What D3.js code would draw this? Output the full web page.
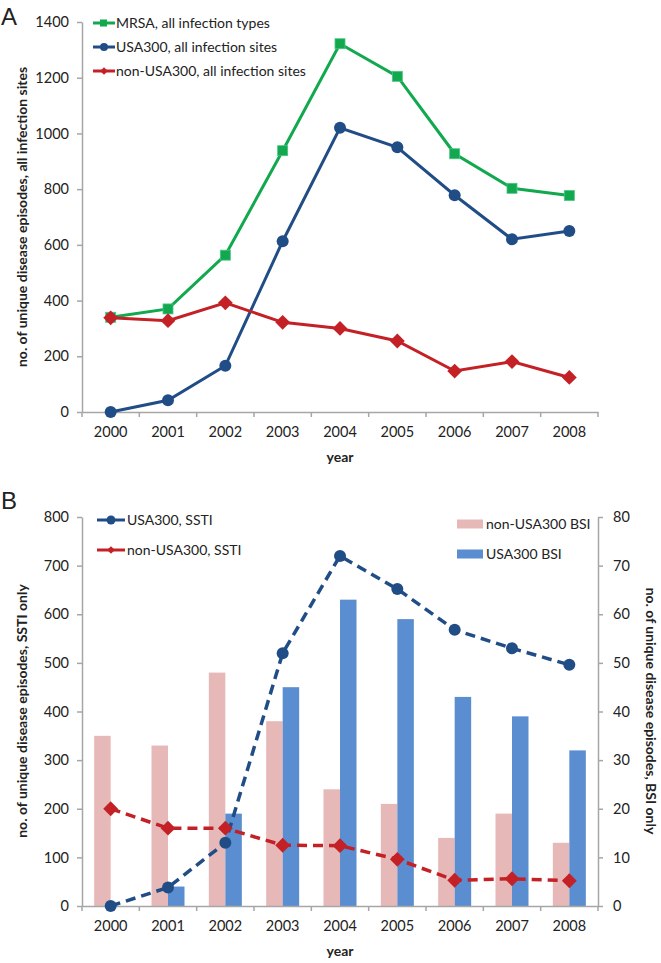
<!DOCTYPE html>
<html><head><meta charset="utf-8">
<script src="https://cdn.jsdelivr.net/npm/d3@7"></script>
<style>
body{margin:0;background:#fff;}
text{font-family:Lato,"Open Sans",sans-serif;fill:#222;}
</style></head>
<body><svg id="c" width="661" height="963"></svg>
<script>
const years = ["2000","2001","2002","2003","2004","2005","2006","2007","2008"];
const mrsaAll = [340, 370, 563, 938, 1322, 1205, 927, 803, 777];
const usa300All = [0, 42, 166, 613, 1020, 950, 778, 620, 650];
const nonUsa300All = [338, 328, 392, 322, 300, 255, 147, 181, 124];
const usa300Ssti = [0, 38, 130, 520, 720, 652, 568, 530, 496];
const nonUsa300Ssti = [200, 160, 160, 125, 124, 96, 53, 56, 52];
const nonUsa300Bsi = [35, 33, 48, 38, 24, 21, 14, 19, 13];
const usa300Bsi = [0, 4, 19, 45, 63, 59, 43, 39, 32];
const topTicks = [0,200,400,600,800,1000,1200,1400];
const leftTicksB = [0,100,200,300,400,500,600,700,800];
const rightTicksB = [0,10,20,30,40,50,60,70,80];

const svg = d3.select("#c");
const axisCol = "#a6a6a6";
const green="#12a84e", blue="#214d87", red="#c42127", pink="#e6b9b8", barBlue="#5a8ed0";
const L=82, R=598;
const x = d3.scaleBand().domain(years).range([L,R]).padding(0);
const fmt = d3.format("d");

function xAxis(g, y0){
  const a = g.append("g").attr("transform",`translate(0,${y0})`)
    .call(d3.axisBottom(x).tickSize(0).tickPadding(15));
  a.select(".domain").attr("stroke",axisCol).attr("stroke-width",1.5);
  a.selectAll("text").attr("font-size",14.5).style("font-family","Lato").attr("fill","#222");
  const bounds = years.map(d=>x(d)).concat([R]);
  g.selectAll(null).data(bounds).enter().append("line")
    .attr("x1",d=>d).attr("x2",d=>d).attr("y1",y0).attr("y2",y0+5)
    .attr("stroke",axisCol).attr("stroke-width",1.5);
}
function yAxisLeft(g, scale, ticks){
  const a = g.append("g").attr("transform",`translate(${L},0)`)
    .call(d3.axisLeft(scale).tickValues(ticks).tickFormat(fmt).tickSize(5).tickSizeOuter(0).tickPadding(8));
  a.select(".domain").attr("stroke",axisCol).attr("stroke-width",1.5);
  a.selectAll(".tick line").attr("stroke",axisCol).attr("stroke-width",1.5);
  a.selectAll("text").attr("font-size",14.5).style("font-family","Lato").attr("fill","#222");
}

// ---------- Panel A ----------
const yA = d3.scaleLinear().domain([0,1400]).range([412,22]);
const gA = svg.append("g");
yAxisLeft(gA, yA, topTicks);
xAxis(gA, 412);
const cx = (i)=>x(years[i])+x.bandwidth()/2;
const lineA = d3.line().x((d,i)=>cx(i)).y(d=>yA(d));
gA.append("path").datum(mrsaAll).attr("d",lineA).attr("fill","none").attr("stroke",green).attr("stroke-width",3);
gA.append("path").datum(usa300All).attr("d",lineA).attr("fill","none").attr("stroke",blue).attr("stroke-width",3);
gA.append("path").datum(nonUsa300All).attr("d",lineA).attr("fill","none").attr("stroke",red).attr("stroke-width",3);
gA.selectAll(null).data(mrsaAll).enter().append("rect")
  .attr("x",(d,i)=>cx(i)-5).attr("y",d=>yA(d)-5).attr("width",10).attr("height",10)
  .attr("fill",green).attr("stroke","#4cc48a").attr("stroke-width",0.8);
gA.selectAll(null).data(usa300All).enter().append("circle")
  .attr("cx",(d,i)=>cx(i)).attr("cy",d=>yA(d)).attr("r",6).attr("fill",blue);
gA.selectAll(null).data(nonUsa300All).enter().append("path")
  .attr("d",d3.symbol().type(d3.symbolSquare).size(110))
  .attr("transform",(d,i)=>`translate(${cx(i)},${yA(d)}) rotate(45)`).attr("fill",red);

// legend A
const legA = [["MRSA, all infection types",green,"sq"],["USA300, all infection sites",blue,"ci"],["non-USA300, all infection sites",red,"di"]];
legA.forEach((d,i)=>{
  const yy = 23 + i*24;
  gA.append("line").attr("x1",93).attr("x2",115).attr("y1",yy).attr("y2",yy).attr("stroke",d[1]).attr("stroke-width",3);
  if(d[2]==="sq") gA.append("rect").attr("x",100).attr("y",yy-3.5).attr("width",7).attr("height",7).attr("fill",d[1]);
  if(d[2]==="ci") gA.append("circle").attr("cx",104).attr("cy",yy).attr("r",4).attr("fill",d[1]);
  if(d[2]==="di") gA.append("path").attr("d",d3.symbol().type(d3.symbolSquare).size(30)).attr("transform",`translate(104,${yy}) rotate(45)`).attr("fill",d[1]);
  gA.append("text").attr("x",116).attr("y",yy).attr("dy","0.35em").attr("font-size",14).text(d[0]);
});
svg.append("text").attr("x",1).attr("y",25).attr("font-size",24).style("font-family","Liberation Sans").text("A");
gA.append("text").attr("transform",`translate(27,217) rotate(-90)`).attr("text-anchor","middle")
  .attr("font-size",14).attr("font-weight","bold").text("no. of unique disease episodes, all infection sites");
gA.append("text").attr("x",340).attr("y",462).attr("text-anchor","middle").attr("font-size",14).attr("font-weight","bold").text("year");

// ---------- Panel B ----------
const yB = d3.scaleLinear().domain([0,800]).range([906,517]);
const yB2 = d3.scaleLinear().domain([0,80]).range([906,517]);
const gB = svg.append("g");
const xs = d3.scaleBand().domain(["non","usa"]).range([0,33]).padding(0);
const off = (x.bandwidth()-33)/2;
gB.selectAll(null).data(nonUsa300Bsi).enter().append("rect")
  .attr("x",(d,i)=>x(years[i])+off+xs("non")).attr("width",xs.bandwidth())
  .attr("y",d=>yB2(d)).attr("height",d=>yB2(0)-yB2(d)).attr("fill",pink);
gB.selectAll(null).data(usa300Bsi).enter().append("rect")
  .attr("x",(d,i)=>x(years[i])+off+xs("usa")).attr("width",xs.bandwidth())
  .attr("y",d=>yB2(d)).attr("height",d=>yB2(0)-yB2(d)).attr("fill",barBlue);
yAxisLeft(gB, yB, leftTicksB);
xAxis(gB, 906);
const ra = gB.append("g").attr("transform",`translate(${R},0)`)
  .call(d3.axisRight(yB2).tickValues(rightTicksB).tickSize(5).tickSizeOuter(0).tickPadding(10));
ra.select(".domain").attr("stroke",axisCol).attr("stroke-width",1.5);
ra.selectAll(".tick line").attr("stroke",axisCol).attr("stroke-width",1.5);
ra.selectAll("text").attr("font-size",14.5).style("font-family","Lato").attr("fill","#222");

const lineB = d3.line().x((d,i)=>cx(i)).y(d=>yB(d));
gB.append("path").datum(usa300Ssti).attr("d",lineB).attr("fill","none").attr("stroke",blue).attr("stroke-width",3.5).attr("stroke-dasharray","10,6");
gB.append("path").datum(nonUsa300Ssti).attr("d",lineB).attr("fill","none").attr("stroke",red).attr("stroke-width",3.5).attr("stroke-dasharray","10,6");
gB.selectAll(null).data(usa300Ssti).enter().append("circle")
  .attr("cx",(d,i)=>cx(i)).attr("cy",d=>yB(d)).attr("r",6).attr("fill",blue);
gB.selectAll(null).data(nonUsa300Ssti).enter().append("path")
  .attr("d",d3.symbol().type(d3.symbolSquare).size(110))
  .attr("transform",(d,i)=>`translate(${cx(i)},${yB(d)}) rotate(45)`).attr("fill",red);

// legend B
const legB = [["USA300, SSTI",blue,"ci"],["non-USA300, SSTI",red,"di"]];
legB.forEach((d,i)=>{
  const yy = 520 + i*30;
  gB.append("line").attr("x1",97).attr("x2",125).attr("y1",yy).attr("y2",yy).attr("stroke",d[1]).attr("stroke-width",3);
  if(d[2]==="ci") gB.append("circle").attr("cx",111).attr("cy",yy).attr("r",4.5).attr("fill",d[1]);
  if(d[2]==="di") gB.append("path").attr("d",d3.symbol().type(d3.symbolSquare).size(30)).attr("transform",`translate(111,${yy}) rotate(45)`).attr("fill",d[1]);
  gB.append("text").attr("x",127).attr("y",yy).attr("dy","0.35em").attr("font-size",14).text(d[0]);
});
const legB2 = [["non-USA300 BSI",pink],["USA300 BSI",barBlue]];
legB2.forEach((d,i)=>{
  const yy = 524 + i*30;
  gB.append("rect").attr("x",457).attr("y",yy-4.5).attr("width",26).attr("height",9).attr("fill",d[1]);
  gB.append("text").attr("x",486).attr("y",yy).attr("dy","0.35em").attr("font-size",14).text(d[0]);
});
svg.append("text").attr("x",1).attr("y",509).attr("font-size",24).style("font-family","Liberation Sans").text("B");
gB.append("text").attr("transform",`translate(27,711) rotate(-90)`).attr("text-anchor","middle")
  .attr("font-size",14).attr("font-weight","bold").text("no. of unique disease episodes, SSTI only");
gB.append("text").attr("transform",`translate(646,711) rotate(90)`).attr("text-anchor","middle")
  .attr("font-size",14).attr("font-weight","bold").text("no. of unique disease episodes, BSI only");
gB.append("text").attr("x",340).attr("y",956).attr("text-anchor","middle").attr("font-size",14).attr("font-weight","bold").text("year");
</script></body></html>
